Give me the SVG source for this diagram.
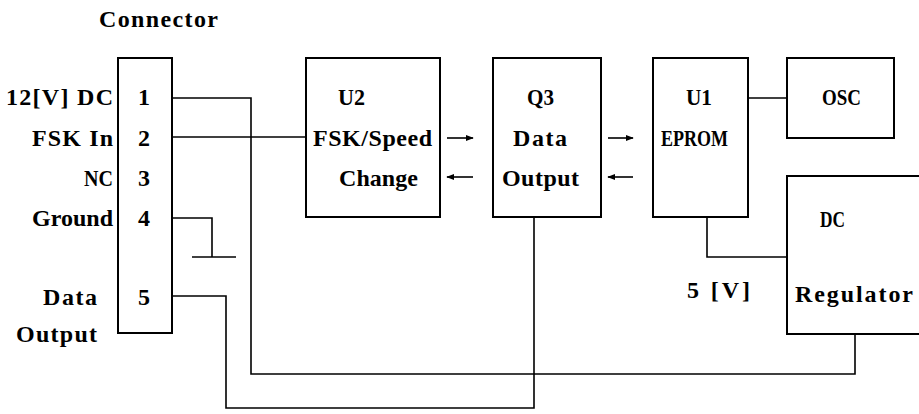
<svg xmlns="http://www.w3.org/2000/svg" width="919" height="414" viewBox="0 0 919 414">
<defs>
<style>
.box{fill:none;stroke:#000;stroke-width:2}
.w{fill:none;stroke:#000;stroke-width:1.6}
text{font-family:"Liberation Serif","Times New Roman",serif;font-size:24px;font-weight:bold;fill:#000}
.m{text-anchor:middle}
</style>
<marker id="ah" viewBox="0 0 10 10" refX="9" refY="5" markerWidth="8" markerHeight="8" markerUnits="userSpaceOnUse" orient="auto">
<path d="M0,1 L10,5 L0,9 Z" fill="#000"/>
</marker>
</defs>
<rect width="919" height="414" fill="#fff"/>
<text x="99" y="27" textLength="119" lengthAdjust="spacing">Connector</text>
<g id="connector">
<rect class="box" x="118" y="58" width="54" height="275"/>
<text x="6" y="105" textLength="107" lengthAdjust="spacing">12[V] DC</text>
<text x="32" y="146" textLength="81" lengthAdjust="spacing">FSK In</text>
<text x="84" y="186" textLength="29" lengthAdjust="spacingAndGlyphs">NC</text>
<text x="32" y="226" textLength="81" lengthAdjust="spacing">Ground</text>
<text x="43" y="305" textLength="54" lengthAdjust="spacing">Data</text>
<text x="16" y="342" textLength="81" lengthAdjust="spacing">Output</text>
<text class="m" x="144" y="105">1</text>
<text class="m" x="144" y="146">2</text>
<text class="m" x="144" y="186">3</text>
<text class="m" x="144" y="226">4</text>
<text class="m" x="144" y="305">5</text>
</g>
<g id="u2">
<rect class="box" x="306" y="58" width="134" height="159"/>
<text x="338" y="105" textLength="27" lengthAdjust="spacingAndGlyphs">U2</text>
<text x="313" y="146" textLength="119" lengthAdjust="spacing">FSK/Speed</text>
<text x="339" y="186" textLength="79" lengthAdjust="spacing">Change</text>
</g>
<g id="q3">
<rect class="box" x="493" y="58" width="108" height="159"/>
<text x="527" y="105" textLength="27" lengthAdjust="spacingAndGlyphs">Q3</text>
<text x="513" y="146" textLength="54" lengthAdjust="spacing">Data</text>
<text x="502" y="186" textLength="77" lengthAdjust="spacing">Output</text>
</g>
<g id="u1">
<rect class="box" x="653" y="58" width="95" height="159"/>
<text x="686" y="105" textLength="26" lengthAdjust="spacingAndGlyphs">U1</text>
<text x="661" y="146" textLength="67" lengthAdjust="spacingAndGlyphs">EPROM</text>
</g>
<g id="osc">
<rect class="box" x="787" y="58" width="107" height="80"/>
<text x="822" y="105" textLength="39" lengthAdjust="spacingAndGlyphs">OSC</text>
</g>
<g id="regulator">
<rect class="box" x="787" y="176" width="150" height="158"/>
<text x="820" y="227" textLength="25" lengthAdjust="spacingAndGlyphs">DC</text>
<text x="795" y="302" textLength="118" lengthAdjust="spacing">Regulator</text>
</g>
<g id="connectors">
<polyline class="w" points="172,98 251,98 251,374 855,374 855,334"/>
<polyline class="w" points="172,137 306,137"/>
<polyline class="w" points="172,218 212,218 212,257"/>
<line class="w" x1="192" y1="257" x2="236" y2="257"/>
<polyline class="w" points="172,296 226,296 226,408 534,408 534,217"/>
<line class="w" x1="748" y1="98" x2="787" y2="98"/>
<polyline class="w" points="707,217 707,257 787,257"/>
<line class="w" x1="447" y1="138" x2="473" y2="138" marker-end="url(#ah)"/>
<line class="w" x1="473" y1="177" x2="447" y2="177" marker-end="url(#ah)"/>
<line class="w" x1="608" y1="138" x2="633" y2="138" marker-end="url(#ah)"/>
<line class="w" x1="633" y1="177" x2="608" y2="177" marker-end="url(#ah)"/>
<text x="687" y="298" textLength="63" lengthAdjust="spacing">5 [V]</text>
</g>
</svg>
